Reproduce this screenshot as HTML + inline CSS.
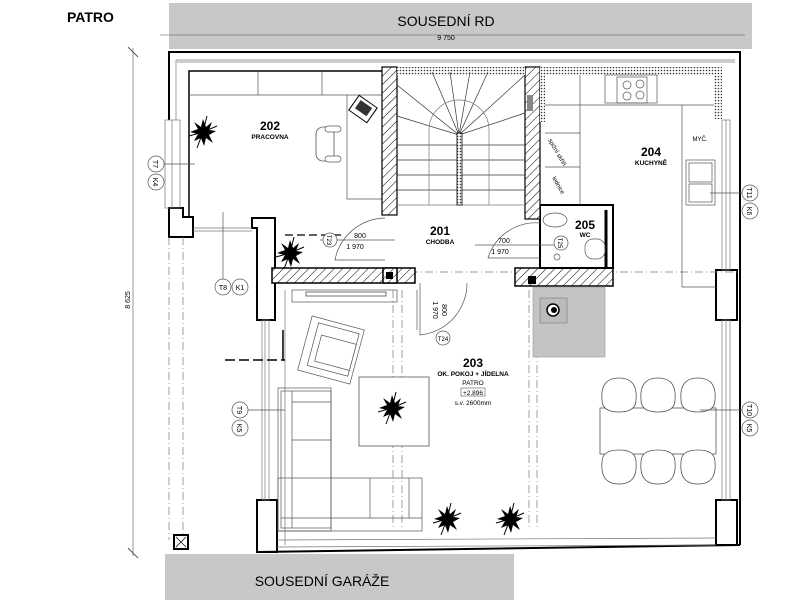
<!DOCTYPE html>
<html><head><meta charset="utf-8"><style>
html,body{margin:0;padding:0;background:#fff;}
svg{display:block;font-family:"Liberation Sans",sans-serif;}
</style></head><body>
<svg width="800" height="600" viewBox="0 0 800 600" xmlns="http://www.w3.org/2000/svg">
<defs>
<pattern id="h" width="6" height="6" patternUnits="userSpaceOnUse" patternTransform="rotate(45)">
<rect width="6" height="6" fill="#fff"/><line x1="0" y1="0" x2="0" y2="6" stroke="#000" stroke-width="1"/></pattern>
<pattern id="d" width="3" height="3" patternUnits="userSpaceOnUse"><rect width="3" height="3" fill="#fff"/><circle cx="1.5" cy="1.5" r="0.8" fill="#333"/></pattern>
<g id="pl">
<polygon points="0,-13 3,-5 9,-10 6,-2 13,-1 6,3 10,11 3,6 1,14 -2,6 -9,9 -5,2 -13,0 -5,-3 -9,-10 -2,-5"/>
<line x1="0" y1="0" x2="-6" y2="16" stroke="#000" stroke-width="1"/>
<line x1="0" y1="0" x2="14" y2="-6" stroke="#000" stroke-width="1"/>
<line x1="0" y1="0" x2="-14" y2="4" stroke="#000" stroke-width="1"/>
<line x1="0" y1="0" x2="4" y2="-16" stroke="#000" stroke-width="1"/>
</g>
</defs>
<text x="67" y="22" font-size="14" font-weight="bold">PATRO</text>
<rect x="169" y="3" width="583" height="46" fill="#c8c8c8"/>
<text x="446" y="26" font-size="14" text-anchor="middle">SOUSEDNÍ RD</text>
<line x1="160" y1="35" x2="745" y2="35" stroke="#555" stroke-width="0.6"/>
<text x="446" y="40" font-size="7" text-anchor="middle">9 750</text>
<rect x="165" y="554" width="349" height="46" fill="#c8c8c8"/>
<text x="322" y="586" font-size="14" text-anchor="middle">SOUSEDNÍ GARÁŽE</text>
<line x1="133" y1="48" x2="133" y2="556" stroke="#555" stroke-width="0.6"/>
<line x1="128" y1="47" x2="138" y2="57" stroke="#555"/><line x1="128" y1="548" x2="138" y2="558" stroke="#555"/>
<text x="130" y="300" font-size="7" transform="rotate(-90 130 300)" text-anchor="middle">8 625</text>
<g fill="none" stroke="#000" stroke-width="2">
<polyline points="169,120 169,52 740,52 740,545"/>
<polygon points="169,208 183,208 183,217 193,217 193,237 169,237" fill="#fff"/>
<polygon points="252,218 275,218 275,320 257,320 257,228 252,228" fill="#fff"/>
<polygon points="257,500 277,500 277,552 257,552" fill="#fff"/>
<line x1="257" y1="552" x2="740" y2="545"/>
<rect x="716" y="270" width="21" height="50" fill="#fff"/>
<rect x="716" y="500" width="21" height="45" fill="#fff"/>
</g>
<g fill="none" stroke="#777" stroke-width="0.7">
<line x1="176" y1="60" x2="735" y2="60"/><line x1="176" y1="60" x2="176" y2="120"/>
<line x1="177" y1="62" x2="735" y2="62"/>
<rect x="165" y="120" width="15" height="88"/><line x1="172" y1="120" x2="172" y2="208"/>
<line x1="193" y1="228" x2="252" y2="228"/><line x1="193" y1="231" x2="252" y2="231"/>
<rect x="262" y="320" width="7" height="180"/><line x1="265" y1="320" x2="265" y2="500"/>
<rect x="722" y="120" width="8" height="150"/><line x1="726" y1="120" x2="726" y2="270"/>
<rect x="722" y="320" width="8" height="180"/><line x1="726" y1="320" x2="726" y2="500"/>
<line x1="277" y1="540" x2="716" y2="538"/><line x1="277" y1="547" x2="716" y2="545"/>
<line x1="285" y1="290" x2="285" y2="545"/>
</g>
<g stroke="#777" stroke-width="0.7" stroke-dasharray="8,3,1,3" fill="none">
<line x1="169" y1="237" x2="169" y2="540"/><line x1="183" y1="237" x2="183" y2="540"/>
<line x1="393" y1="290" x2="393" y2="530"/><line x1="402" y1="290" x2="402" y2="530"/>
<line x1="529" y1="290" x2="529" y2="530"/><line x1="537" y1="290" x2="537" y2="530"/>
<line x1="395" y1="272" x2="740" y2="272"/>
</g>
<line x1="225" y1="360" x2="285" y2="360" stroke="#000" stroke-width="1.5" stroke-dasharray="10,4"/>
<line x1="283" y1="360" x2="283" y2="330" stroke="#000" stroke-width="1.5"/>
<polyline points="189,216 189,71 382,71" fill="none" stroke="#000" stroke-width="1.5"/>
<line x1="189" y1="95" x2="382" y2="95" stroke="#555" stroke-width="0.7"/>
<line x1="258" y1="71" x2="258" y2="95" stroke="#555" stroke-width="0.7"/>
<line x1="322" y1="71" x2="322" y2="95" stroke="#555" stroke-width="0.7"/>
<polyline points="347,95 347,199 382,199" fill="none" stroke="#555" stroke-width="0.7"/>
<rect x="352" y="100" width="22" height="18" transform="rotate(35 363 109)" fill="#fff" stroke="#000"/>
<rect x="356" y="103" width="14" height="10" transform="rotate(35 363 109)" fill="#333"/>
<rect x="316" y="127" width="18" height="34" rx="7" fill="#fff" stroke="#555" stroke-width="0.8"/>
<rect x="325" y="126" width="16" height="6" rx="3" fill="#fff" stroke="#555" stroke-width="0.7"/>
<rect x="325" y="156" width="16" height="6" rx="3" fill="#fff" stroke="#555" stroke-width="0.7"/>
<g stroke="#000" stroke-width="1.5">
<rect x="272" y="268" width="143" height="15" fill="url(#h)"/>
<rect x="383" y="268" width="14" height="15" fill="url(#h)"/>
<rect x="515" y="268" width="98" height="18" fill="url(#h)"/>
<rect x="540" y="205" width="73" height="63" fill="#fff" stroke-width="2"/>
<line x1="606" y1="210" x2="606" y2="268" stroke-width="3"/>
</g>
<rect x="386" y="272" width="7" height="7" fill="#000"/>
<rect x="528" y="276" width="8" height="8" fill="#000"/>
<rect x="382" y="67" width="15" height="148" fill="url(#h)" stroke="#000" stroke-width="1.2"/>
<rect x="525" y="67" width="15" height="152" fill="url(#h)" stroke="#000" stroke-width="1.2"/>
<rect x="397" y="67" width="128" height="8" fill="url(#d)"/>
<rect x="540" y="67" width="182" height="8" fill="url(#d)"/>
<rect x="714" y="67" width="8" height="52" fill="url(#d)"/>
<rect x="540" y="67" width="5" height="55" fill="url(#d)"/>
<rect x="527" y="95" width="6" height="16" fill="#888"/>
<g stroke="#333" stroke-width="0.7" fill="none">
<line x1="397" y1="145" x2="525" y2="145"/><line x1="397" y1="160" x2="525" y2="160"/>
<line x1="397" y1="175" x2="525" y2="175"/><line x1="397" y1="190" x2="525" y2="190"/>
<line x1="397" y1="205" x2="525" y2="205" stroke="#777"/>
<line x1="459" y1="135" x2="397" y2="85"/><line x1="459" y1="135" x2="397" y2="116"/>
<line x1="459" y1="135" x2="432" y2="72"/><line x1="459" y1="135" x2="450" y2="72"/>
<line x1="459" y1="135" x2="470" y2="72"/><line x1="459" y1="135" x2="488" y2="72"/>
<line x1="459" y1="135" x2="525" y2="75"/><line x1="459" y1="135" x2="525" y2="113"/>
<path d="M429,205 V130 A30,30 0 0 1 489,130 V205" stroke="#777"/>
</g>
<rect x="457" y="133" width="5" height="72" fill="url(#d)" stroke="#000" stroke-width="0.8"/>
<g stroke="#555" stroke-width="0.7" fill="none">
<line x1="580" y1="75" x2="580" y2="205"/><line x1="545" y1="105" x2="714" y2="105"/>
<line x1="682" y1="105" x2="682" y2="287"/><line x1="682" y1="287" x2="716" y2="287"/>
<rect x="605" y="75" width="52" height="28"/><rect x="617" y="77" width="30" height="26"/>
<circle cx="627" cy="85" r="4"/><circle cx="640" cy="84" r="4"/><circle cx="627" cy="96" r="4"/><circle cx="640" cy="95" r="4"/>
<line x1="545" y1="133" x2="580" y2="133"/><line x1="545" y1="167" x2="580" y2="167"/>
<rect x="686" y="160" width="29" height="45"/><rect x="689" y="163" width="23" height="19"/><rect x="689" y="184" width="23" height="18"/>
</g>
<text x="548" y="140" font-size="6" transform="rotate(60 548 140)">spižní skříň</text>
<text x="552" y="178" font-size="6" transform="rotate(60 552 178)">lednice</text>
<g stroke="#555" stroke-width="0.7" fill="none">
<ellipse cx="555" cy="220" rx="12" ry="7"/>
<rect x="585" y="239" width="20" height="20" rx="8"/>
<circle cx="557" cy="257" r="3"/>
</g>
<g stroke="#555" stroke-width="0.7" fill="none">
<path d="M385,218 A52,52 0 0 0 335,260 L385,260"/>
<path d="M540,223 A50,50 0 0 0 488,258 L540,258"/>
<path d="M420,283 V335 A52,52 0 0 0 467,283"/>
<line x1="320" y1="240" x2="395" y2="240"/><line x1="475" y1="245" x2="555" y2="245"/>
<line x1="417" y1="290" x2="417" y2="330"/>
</g>
<line x1="285" y1="235" x2="345" y2="235" stroke="#000" stroke-width="1.2" stroke-dasharray="8,4"/>
<rect x="533" y="287" width="72" height="70" fill="#c4c4c4" stroke="#999" stroke-width="0.6"/>
<rect x="540" y="298" width="27" height="25" fill="#bbb" stroke="#777" stroke-width="0.6"/>
<circle cx="553" cy="310" r="6" fill="#fff" stroke="#000" stroke-width="1.5"/><circle cx="554" cy="310" r="3" fill="#000"/>
<rect x="292" y="290" width="105" height="12" fill="none" stroke="#555" stroke-width="0.7"/>
<rect x="306" y="292" width="80" height="4" fill="#fff" stroke="#333" stroke-width="0.7"/>
<g transform="rotate(15 331 350)" stroke="#555" stroke-width="0.7" fill="#fff">
<rect x="304" y="322" width="54" height="56"/><rect x="312" y="327" width="42" height="44"/><rect x="318" y="338" width="36" height="27"/>
</g>
<rect x="359" y="377" width="70" height="69" fill="#fff" stroke="#555" stroke-width="0.8"/>
<g stroke="#555" stroke-width="0.7" fill="none">
<rect x="278" y="388" width="53" height="143"/><rect x="281" y="391" width="50" height="137"/>
<line x1="292" y1="391" x2="292" y2="528"/><line x1="292" y1="402" x2="331" y2="402"/><line x1="292" y1="440" x2="331" y2="440"/>
<rect x="278" y="478" width="144" height="53"/><line x1="281" y1="518" x2="422" y2="518"/>
<line x1="370" y1="478" x2="370" y2="518"/><line x1="409" y1="478" x2="409" y2="518"/>
</g>
<g stroke="#555" stroke-width="0.8" fill="#fff">
<rect x="600" y="408" width="116" height="46"/>
<path d="M602,400 Q600,378 619,378 Q638,378 636,400 Q636,412 619,412 Q602,412 602,400Z"/>
<path d="M641,400 Q639,378 658,378 Q677,378 675,400 Q675,412 658,412 Q641,412 641,400Z"/>
<path d="M681,400 Q679,378 698,378 Q717,378 715,400 Q715,412 698,412 Q681,412 681,400Z"/>
<path d="M602,462 Q600,484 619,484 Q638,484 636,462 Q636,450 619,450 Q602,450 602,462Z"/>
<path d="M641,462 Q639,484 658,484 Q677,484 675,462 Q675,450 658,450 Q641,450 641,462Z"/>
<path d="M681,462 Q679,484 698,484 Q717,484 715,462 Q715,450 698,450 Q681,450 681,462Z"/>
</g>
<g fill="#000">
<use href="#pl" x="203" y="132"/>
<use href="#pl" x="290" y="253"/>
<use href="#pl" x="392" y="408"/>
<use href="#pl" x="447" y="519"/>
<use href="#pl" x="510" y="519"/>
</g>
<rect x="174" y="535" width="14" height="14" fill="#fff" stroke="#000" stroke-width="2"/>
<line x1="176" y1="537" x2="186" y2="547" stroke="#000" stroke-width="0.7"/><line x1="186" y1="537" x2="176" y2="547" stroke="#000" stroke-width="0.7"/>
<g stroke="#555" stroke-width="0.7" fill="#fff">
<line x1="164" y1="164" x2="195" y2="164"/>
<circle cx="156" cy="164" r="8"/><circle cx="156" cy="182" r="8"/>
<line x1="223" y1="212" x2="223" y2="279"/>
<circle cx="223" cy="287" r="8"/><circle cx="240" cy="287" r="8"/>
<line x1="248" y1="410" x2="285" y2="410"/>
<circle cx="240" cy="410" r="8"/><circle cx="240" cy="428" r="8"/>
<line x1="700" y1="410" x2="742" y2="410"/>
<circle cx="750" cy="410" r="8"/><circle cx="750" cy="428" r="8"/>
<line x1="710" y1="193" x2="742" y2="193"/>
<circle cx="750" cy="193" r="8"/><circle cx="750" cy="211" r="8"/>
<circle cx="330" cy="240" r="7"/><circle cx="561" cy="243" r="7"/><circle cx="443" cy="338" r="7"/>
</g>
<g font-size="7" text-anchor="middle">
<text transform="translate(153,164) rotate(90)">T7</text>
<text transform="translate(153,182) rotate(90)">K4</text>
<text x="223" y="290">T8</text><text x="240" y="290">K1</text>
<text transform="translate(237,410) rotate(90)">T9</text><text transform="translate(237,428) rotate(90)">K5</text>
<text transform="translate(747,410) rotate(90)">T10</text><text transform="translate(747,428) rotate(90)">K5</text>
<text transform="translate(747,193) rotate(90)">T11</text><text transform="translate(747,211) rotate(90)">K6</text>
<text transform="translate(327,240) rotate(90)" font-size="6">T23</text>
<text transform="translate(558,243) rotate(90)" font-size="6">T25</text>
<text x="443" y="341" font-size="6">T24</text>
<text x="360" y="238">800</text><text x="355" y="249">1 970</text>
<text x="504" y="243">700</text><text x="500" y="254">1 970</text>
<text transform="translate(442,310) rotate(90)">800</text>
<text transform="translate(433,310) rotate(90)">1 970</text>
</g>
<g text-anchor="middle" font-weight="bold">
<text x="270" y="130" font-size="12">202</text><text x="270" y="139" font-size="6.5">PRACOVNA</text>
<text x="440" y="235" font-size="12">201</text><text x="440" y="244" font-size="6.5">CHODBA</text>
<text x="651" y="156" font-size="12">204</text><text x="651" y="165" font-size="6.5">KUCHYNĚ</text>
<text x="585" y="229" font-size="12">205</text><text x="585" y="237" font-size="6.5">WC</text>
<text x="473" y="367" font-size="12">203</text><text x="473" y="376" font-size="6.5">OK. POKOJ + JÍDELNA</text>
</g>
<g text-anchor="middle" font-size="6.5">
<text x="700" y="141" font-size="6">MYČ.</text>
<text x="473" y="385">PATRO</text>
<rect x="461" y="388" width="24" height="8" fill="none" stroke="#555" stroke-width="0.6"/>
<text x="473" y="395">+2.896</text>
<text x="473" y="405">s.v. 2600mm</text>
</g>
</svg>
</body></html>
